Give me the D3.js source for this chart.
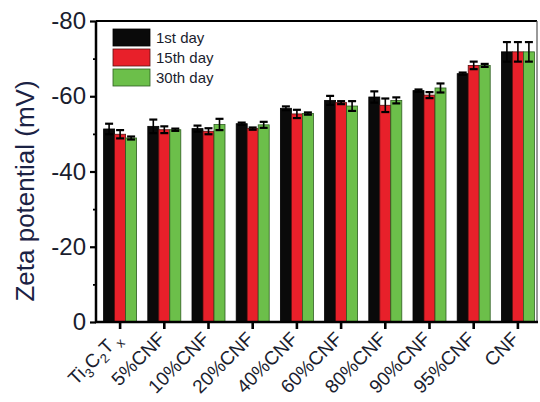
<!DOCTYPE html>
<html><head><meta charset="utf-8">
<script src="https://cdn.jsdelivr.net/npm/d3@7"></script>
<style>body{margin:0;background:#fff;} svg{display:block;font-family:"Liberation Sans",Arial,sans-serif;}</style>
</head><body>
<svg id="c" width="540" height="402"></svg>
<script>
const categories = ["Ti3C2Tx","5%CNF","10%CNF","20%CNF","40%CNF","60%CNF","80%CNF","90%CNF","95%CNF","CNF"];
const seriesNames = ["1st day","15th day","30th day"];
const day1  = [-51.3,-52.0,-51.4,-52.7,-56.8,-58.9,-59.8,-61.5,-66.0,-71.8];
const day15 = [-49.9,-51.1,-50.7,-51.4,-55.3,-58.3,-57.6,-60.3,-68.2,-71.8];
const day30 = [-48.9,-51.1,-52.5,-52.4,-55.4,-57.4,-58.9,-62.2,-68.2,-71.8];
const err1  = [1.4,1.8,0.8,0.3,0.5,1.2,1.5,0.3,0.3,2.6];
const err15 = [1.1,0.9,0.8,0.3,1.1,0.4,1.8,0.8,1.0,2.6];
const err30 = [0.4,0.3,1.5,0.8,0.3,1.3,0.8,1.2,0.4,2.6];
const yTicks = [0,-20,-40,-60,-80];
const yMinor = [-10,-30,-50,-70];
const colors = ["#0a0a0a","#e8202a","#6cbf4a"];
const strokes = ["#000","#5a1010","#2f5e22"];

const values = [day1, day15, day30];
const errs = [err1, err15, err30];
const svg = d3.select("#c");
const L = 96, R = 537, T = 21, B = 322;
const y = d3.scaleLinear().domain([0,-80]).range([B,T]);
const x = d3.scaleBand().domain(categories).range([98,540]).paddingInner(0).paddingOuter(0);
const xs = d3.scaleBand().domain(seriesNames).range([-16.5,16.5]);

// bars
seriesNames.forEach((s,si)=>{
  svg.append("g").selectAll("rect").data(categories).join("rect")
    .attr("x",(c)=>x(c)+x.bandwidth()/2+xs(s))
    .attr("width",xs.bandwidth())
    .attr("y",(c,i)=>y(values[si][i]))
    .attr("height",(c,i)=>B-y(values[si][i]))
    .attr("fill",colors[si]).attr("stroke",strokes[si]).attr("stroke-width",0.8);
});
// error bars
seriesNames.forEach((s,si)=>{
  const g = svg.append("g").attr("stroke","#000").attr("stroke-width",1.6);
  categories.forEach((c,i)=>{
    const cx = x(c)+x.bandwidth()/2+xs(s)+xs.bandwidth()/2;
    const v = values[si][i], e = errs[si][i];
    const y1 = y(v-e), y2 = y(v+e);
    g.append("line").attr("x1",cx).attr("x2",cx).attr("y1",y1).attr("y2",y2);
    g.append("line").attr("x1",cx-4).attr("x2",cx+4).attr("y1",y1).attr("y2",y1).attr("stroke-width",2.2);
    g.append("line").attr("x1",cx-4).attr("x2",cx+4).attr("y1",y2).attr("y2",y2).attr("stroke-width",2.2);
  });
});

// frame
svg.append("line").attr("x1",L).attr("x2",R).attr("y1",T).attr("y2",T).attr("stroke","#000").attr("stroke-width",2.2);
svg.append("line").attr("x1",R).attr("x2",R).attr("y1",T).attr("y2",B).attr("stroke","#555").attr("stroke-width",1.2);

// y axis
const yAxis = d3.axisLeft(y).tickValues(yTicks).tickSize(6).tickPadding(4).tickFormat(d3.format("d"));
const gy = svg.append("g").attr("transform",`translate(${L},0)`).call(yAxis);
gy.select(".domain").attr("stroke-width",2.5).attr("d",`M0,${T}V${B+1}`);
gy.selectAll(".tick line").attr("stroke-width",2.2);
gy.selectAll(".tick text").attr("font-size",24).attr("fill","#1a1d2e").attr("font-family","Liberation Sans, Arial, sans-serif")
  .text(d=>d===0?"0":"-"+Math.abs(d));
svg.append("g").attr("transform",`translate(${L},0)`).call(d3.axisLeft(y).tickValues(yMinor).tickSize(3).tickFormat(""))
  .call(g=>{g.select(".domain").remove(); g.selectAll(".tick line").attr("stroke-width",1.8);});

// x axis
const xAxis = d3.axisBottom(x).tickSize(7).tickFormat("");
const gx = svg.append("g").attr("transform",`translate(0,${B})`).call(xAxis);
gx.select(".domain").attr("stroke-width",2.5).attr("d",`M${L-1},0H${R+1}`);
gx.selectAll(".tick line").attr("stroke-width",2.6);

// x labels
const lab = svg.append("g").attr("font-size",19).attr("fill","#1a1d2e");
categories.forEach((c)=>{
  const cx = x(c)+x.bandwidth()/2;
  const t = lab.append("text").attr("text-anchor","end")
    .attr("transform",`translate(${cx+2},${B+18}) rotate(-45)`);
  if(c==="Ti3C2Tx"){
    t.append("tspan").text("Ti");
    t.append("tspan").attr("font-size",13).attr("dy",5).text("3");
    t.append("tspan").attr("dy",-5).text("C");
    t.append("tspan").attr("font-size",13).attr("dy",5).text("2");
    t.append("tspan").attr("dy",-5).text("T");
    t.append("tspan").attr("font-size",13).attr("dy",5).text(" x");
  } else t.text(c);
});

// y title
svg.append("text").attr("transform",`translate(34,191) rotate(-90)`).attr("text-anchor","middle")
  .attr("font-size",26).attr("fill","#1b2244").text("Zeta potential (mV)");

// legend
const lg = svg.append("g");
seriesNames.forEach((s,i)=>{
  lg.append("rect").attr("x",113).attr("y",29+i*20).attr("width",37).attr("height",17)
    .attr("fill",colors[i]).attr("stroke",strokes[i]).attr("stroke-width",0.8);
  lg.append("text").attr("x",156).attr("y",43+i*20).attr("font-size",15).attr("fill","#1a1d2e").text(s);
});
</script>
</body></html>
